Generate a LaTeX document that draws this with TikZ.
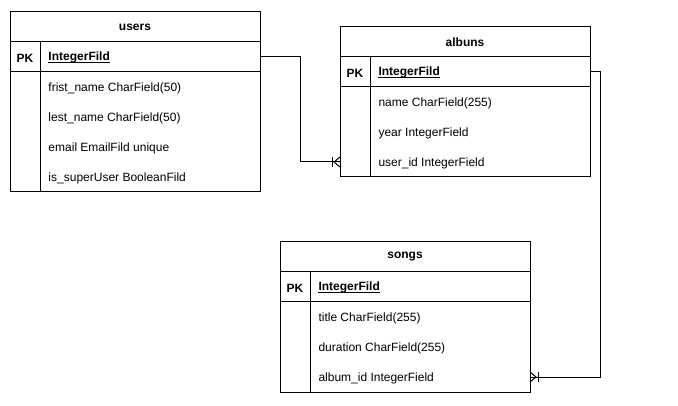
\documentclass[tikz,border=0pt]{standalone}
\usepackage{fontspec}
\setmainfont{Liberation Sans}
\usetikzlibrary{positioning}

\newcommand{\erfont}{\fontsize{12pt}{14pt}\selectfont}

\tikzset{
  hdr/.style={draw, minimum width=250pt, minimum height=30pt, inner sep=0pt, outer sep=0pt, font=\erfont\bfseries},
  pkrow/.style={draw, minimum width=250pt, minimum height=30pt, inner sep=0pt, outer sep=0pt},
  body/.style={draw, minimum width=250pt, inner sep=0pt, outer sep=0pt},
  fld/.style={anchor=west, inner sep=0pt, yshift=-1pt},
  pk/.style={inner sep=0pt, font=\erfont\bfseries, yshift=-1pt},
  idfld/.style={anchor=base west, inner sep=0pt, font=\erfont\bfseries},
  uline/.style={line width=0.9pt},
}

\begin{document}
\begin{tikzpicture}[x=1pt, y=-1pt, line width=1pt, font=\erfont]
  \useasboundingbox[fill=white] (0,0) rectangle (678,406);

  % users
  \node[hdr] (users) at (135,27) {users};
  \node[pkrow, below=0pt of users] (usersPK) {};
  \node[body, minimum height=120pt, below=0pt of usersPK] (usersBody) {};
  \draw ([xshift=30pt]usersPK.north west) -- ([xshift=30pt]usersBody.south west);
  \node[pk] at (25,57) {PK};
  \node[idfld] (usersId) at (48,61) {IntegerFild};
  \draw[uline] ([yshift=-1.5pt]usersId.base west) -- ([yshift=-1.5pt]usersId.base east);
  \node[fld] (usersFirst) at (48,87) {frist\_name CharField(50)};
  \node[fld] (usersLast) at (48,117) {lest\_name CharField(50)};
  \node[fld] (usersEmail) at (48,147) {email EmailFild unique};
  \node[fld] (usersSuper) at (48,177) {is\_superUser BooleanFild};

  % albuns
  \node[hdr] (albuns) at (465,42) {albuns};
  \node[pkrow, below=0pt of albuns] (albunsPK) {};
  \node[body, minimum height=90pt, below=0pt of albunsPK] (albunsBody) {};
  \draw ([xshift=30pt]albunsPK.north west) -- ([xshift=30pt]albunsBody.south west);
  \node[pk] at (355,72) {PK};
  \node[idfld] (albunsId) at (378,76) {IntegerFild};
  \draw[uline] ([yshift=-1.5pt]albunsId.base west) -- ([yshift=-1.5pt]albunsId.base east);
  \node[fld] (albunsName) at (378,102) {name CharField(255)};
  \node[fld] (albunsYear) at (378,132) {year IntegerField};
  \node[fld] (albunsUser) at (378,162) {user\_id IntegerField};

  % songs
  \node[hdr] (songs) at (405,257) {songs};
  \node[pkrow, below=0pt of songs] (songsPK) {};
  \node[body, minimum height=90pt, below=0pt of songsPK] (songsBody) {};
  \draw ([xshift=30pt]songsPK.north west) -- ([xshift=30pt]songsBody.south west);
  \node[pk] at (295,287) {PK};
  \node[idfld] (songsId) at (318,291) {IntegerFild};
  \draw[uline] ([yshift=-1.5pt]songsId.base west) -- ([yshift=-1.5pt]songsId.base east);
  \node[fld] (songsTitle) at (318,317) {title CharField(255)};
  \node[fld] (songsDur) at (318,347) {duration CharField(255)};
  \node[fld] (songsAlbum) at (318,377) {album\_id IntegerField};

  % relations
  \coordinate (cfA) at (albunsBody.west |- 0,162);
  \coordinate (cfS) at (songsBody.east |- 0,377);
  \draw (usersPK.east) -- ++(40,0) |- (cfA);
  \draw (albunsPK.east) -- ++(10,0) |- (cfS);

  % crow's feet
  \draw (cfA) ++(-8,-5) -- ++(0,10);
  \draw (cfA) ++(0,-5) -- ++(-6,5) -- ++(6,5);
  \draw (cfS) ++(8,-5) -- ++(0,10);
  \draw (cfS) ++(0,-5) -- ++(6,5) -- ++(-6,5);
\end{tikzpicture}
\end{document}
